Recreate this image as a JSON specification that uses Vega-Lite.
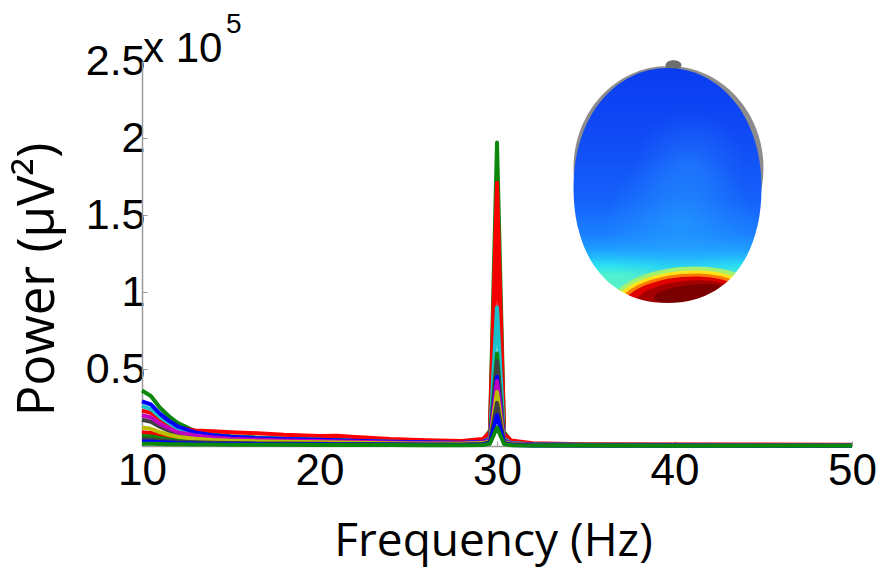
{
  "$schema": "https://vega.github.io/schema/vega-lite/v6.json",
  "width": 710,
  "height": 385,
  "autosize": "none",
  "padding": {"left": 142, "top": 61, "right": 29, "bottom": 122},
  "background": "white",
  "config": {"view": {"stroke": null}},
  "datasets": {
    "spectra": [
      {"f": 10, "d01": 36000, "d02": 23000, "d03": 9000, "d04": 26000, "d05": 6500, "d06": 17000, "d07": 29000, "d08": 20000, "d09": 12000, "d10": 4500, "d11": 3000, "d12": 1500},
      {"f": 10.5, "d01": 32500, "d02": 21500, "d03": 8500, "d04": 24000, "d05": 6200, "d06": 15800, "d07": 27000, "d08": 18500, "d09": 11200, "d10": 4300, "d11": 2900, "d12": 1450},
      {"f": 11, "d01": 25000, "d02": 17500, "d03": 7000, "d04": 19000, "d05": 5200, "d06": 12500, "d07": 21000, "d08": 14500, "d09": 9000, "d10": 3700, "d11": 2500, "d12": 1300},
      {"f": 11.5, "d01": 19500, "d02": 14000, "d03": 5800, "d04": 15000, "d05": 4300, "d06": 10000, "d07": 16500, "d08": 11500, "d09": 7300, "d10": 3200, "d11": 2200, "d12": 1200},
      {"f": 12, "d01": 15000, "d02": 11800, "d03": 4800, "d04": 11500, "d05": 3600, "d06": 8000, "d07": 12800, "d08": 9000, "d09": 6000, "d10": 2800, "d11": 1900, "d12": 1100},
      {"f": 13, "d01": 9500, "d02": 10000, "d03": 4000, "d04": 8500, "d05": 3000, "d06": 6000, "d07": 8800, "d08": 6800, "d09": 4700, "d10": 2400, "d11": 1700, "d12": 1000},
      {"f": 14, "d01": 7500, "d02": 9500, "d03": 3600, "d04": 7000, "d05": 2600, "d06": 5000, "d07": 7000, "d08": 5500, "d09": 3900, "d10": 2100, "d11": 1500, "d12": 900},
      {"f": 15, "d01": 6300, "d02": 9000, "d03": 3300, "d04": 6000, "d05": 2300, "d06": 4300, "d07": 6000, "d08": 4700, "d09": 3400, "d10": 1900, "d11": 1400, "d12": 850},
      {"f": 16.5, "d01": 5400, "d02": 8300, "d03": 3000, "d04": 5000, "d05": 2100, "d06": 3800, "d07": 5100, "d08": 4100, "d09": 3000, "d10": 1700, "d11": 1300, "d12": 800},
      {"f": 18, "d01": 4800, "d02": 7300, "d03": 2800, "d04": 4500, "d05": 1900, "d06": 3400, "d07": 4500, "d08": 3600, "d09": 2700, "d10": 1600, "d11": 1200, "d12": 750},
      {"f": 20, "d01": 4300, "d02": 6500, "d03": 2600, "d04": 4000, "d05": 1700, "d06": 3000, "d07": 4000, "d08": 3200, "d09": 2400, "d10": 1400, "d11": 1100, "d12": 700},
      {"f": 21, "d01": 4000, "d02": 6600, "d03": 2400, "d04": 3600, "d05": 1600, "d06": 2800, "d07": 3700, "d08": 3000, "d09": 2200, "d10": 1350, "d11": 1050, "d12": 680},
      {"f": 22, "d01": 3600, "d02": 5800, "d03": 2200, "d04": 3300, "d05": 1500, "d06": 2600, "d07": 3400, "d08": 2800, "d09": 2100, "d10": 1300, "d11": 1000, "d12": 650},
      {"f": 24, "d01": 3000, "d02": 4500, "d03": 1900, "d04": 2800, "d05": 1300, "d06": 2200, "d07": 2800, "d08": 2300, "d09": 1800, "d10": 1100, "d11": 900, "d12": 600},
      {"f": 26, "d01": 2600, "d02": 3800, "d03": 1600, "d04": 2300, "d05": 1100, "d06": 1900, "d07": 2400, "d08": 2000, "d09": 1500, "d10": 1000, "d11": 800, "d12": 550},
      {"f": 28, "d01": 2300, "d02": 3200, "d03": 1500, "d04": 2000, "d05": 1000, "d06": 1700, "d07": 2100, "d08": 1800, "d09": 1400, "d10": 900, "d11": 700, "d12": 500},
      {"f": 29.2, "d01": 3500, "d02": 4500, "d03": 2200, "d04": 2800, "d05": 1500, "d06": 2300, "d07": 2800, "d08": 2400, "d09": 1900, "d10": 1300, "d11": 1000, "d12": 700},
      {"f": 29.6, "d01": 10000, "d02": 9000, "d03": 7000, "d04": 5000, "d05": 3500, "d06": 4000, "d07": 4000, "d08": 3800, "d09": 3000, "d10": 2500, "d11": 2000, "d12": 1500},
      {"f": 30, "d01": 197000, "d02": 171000, "d03": 130000, "d04": 90000, "d05": 60000, "d06": 55000, "d07": 45000, "d08": 42000, "d09": 35000, "d10": 28000, "d11": 20000, "d12": 12000},
      {"f": 30.4, "d01": 9000, "d02": 8000, "d03": 6000, "d04": 4500, "d05": 3000, "d06": 3500, "d07": 3500, "d08": 3300, "d09": 2600, "d10": 2200, "d11": 1800, "d12": 1300},
      {"f": 30.8, "d01": 3000, "d02": 3500, "d03": 2000, "d04": 2000, "d05": 1200, "d06": 1500, "d07": 1600, "d08": 1400, "d09": 1200, "d10": 900, "d11": 700, "d12": 500},
      {"f": 32, "d01": 1500, "d02": 1800, "d03": 1000, "d04": 1100, "d05": 700, "d06": 900, "d07": 900, "d08": 800, "d09": 700, "d10": 500, "d11": 400, "d12": 300},
      {"f": 35, "d01": 1000, "d02": 1200, "d03": 700, "d04": 800, "d05": 500, "d06": 600, "d07": 700, "d08": 600, "d09": 500, "d10": 400, "d11": 300, "d12": 250},
      {"f": 40, "d01": 800, "d02": 1000, "d03": 600, "d04": 700, "d05": 400, "d06": 500, "d07": 600, "d08": 500, "d09": 400, "d10": 300, "d11": 300, "d12": 200},
      {"f": 45, "d01": 700, "d02": 900, "d03": 600, "d04": 600, "d05": 400, "d06": 500, "d07": 600, "d08": 500, "d09": 400, "d10": 300, "d11": 200, "d12": 200},
      {"f": 50, "d01": 700, "d02": 800, "d03": 500, "d04": 600, "d05": 400, "d06": 500, "d07": 500, "d08": 400, "d09": 400, "d10": 300, "d11": 200, "d12": 200}
    ]
  },
  "layer": [
    {
      "data": {"name": "spectra"},
      "transform": [{"fold": ["d01", "d02", "d03", "d04", "d05", "d06", "d07", "d08", "d09", "d10", "d11", "d12"], "as": ["ch", "p"]}],
      "mark": {"type": "line", "strokeWidth": 4, "strokeJoin": "round"},
      "encoding": {
        "x": {
          "field": "f", "type": "quantitative",
          "scale": {"domain": [10, 50], "nice": false, "zero": false},
          "axis": {
            "values": [10, 20, 30, 40, 50], "title": "Frequency (Hz)", "grid": false,
            "domainColor": "#9a9a9a", "domainWidth": 1.5, "tickColor": "#9a9a9a", "tickSize": -5, "tickWidth": 1,
            "labelFont": "Liberation Sans", "labelFontSize": 44, "labelColor": "#000000", "labelPadding": 8,
            "labelFlush": false, "labelOverlap": false,
            "titleFont": "Open Sans", "titleFontSize": 46, "titleFontWeight": "normal", "titleColor": "#000000",
            "titleX": 351, "titleY": 109, "titleBaseline": "alphabetic", "titleAlign": "center"
          }
        },
        "y": {
          "field": "p", "type": "quantitative",
          "scale": {"domain": [0, 250000], "nice": false},
          "axis": {
            "values": [50000, 100000, 150000, 200000, 250000], "labelExpr": "datum.value / 100000 + ''",
            "title": "Power (μV²)", "grid": false,
            "domainColor": "#9a9a9a", "domainWidth": 1.5, "tickColor": "#9a9a9a", "tickSize": -5, "tickWidth": 1,
            "labelFont": "Liberation Sans", "labelFontSize": 43, "labelColor": "#000000", "labelPadding": 2,
            "labelFlush": false, "labelOverlap": false,
            "titleFont": "Open Sans", "titleFontSize": 51, "titleFontWeight": "normal", "titleColor": "#000000",
            "titleAngle": -90, "titleX": -89, "titleY": 218, "titleBaseline": "alphabetic", "titleAlign": "center"
          }
        },
        "color": {
          "field": "ch", "type": "nominal", "legend": null,
          "scale": {
            "domain": ["d01", "d02", "d03", "d04", "d05", "d06", "d07", "d08", "d09", "d10", "d11", "d12"],
            "range": ["#0b870b", "#ff0000", "#f20000", "#19c2c9", "#0b870b", "#404040", "#0000ff", "#c000c0", "#bdbd00", "#404040", "#0000ff", "#0b870b"]
          }
        }
      }
    },
    {
      "data": {"values": [{"f": 39.662, "p": 180519}]},
      "mark": {"type": "point", "filled": true, "opacity": 1, "size": 41616, "color": "#8c8c8c",
        "shape": "M-0.931,0A0.931,1,0,1,0,0.931,0A0.931,1,0,1,0,-0.931,0Z"},
      "encoding": {"x": {"field": "f", "type": "quantitative"}, "y": {"field": "p", "type": "quantitative"}}
    },
    {
      "data": {"values": [{"f": 39.944, "p": 247403}]},
      "mark": {"type": "point", "filled": true, "opacity": 1, "size": 256, "color": "#6e6e6e",
        "shape": "M-1,0A1,0.6,0,1,0,1,0A1,0.6,0,1,0,-1,0Z"},
      "encoding": {"x": {"field": "f", "type": "quantitative"}, "y": {"field": "p", "type": "quantitative"}}
    },
    {
      "data": {"values": [{"f": 39.606, "p": 169156}]},
      "mark": {"type": "point", "filled": true, "opacity": 1, "size": 55225,
        "shape": "M0,-1C0.42,-1,0.8,-0.62,0.8,0.02C0.8,0.62,0.5,1,0,1C-0.5,1,-0.8,0.62,-0.8,0.02C-0.8,-0.62,-0.42,-1,0,-1Z",
        "color": {"gradient": "linear", "x1": 0, "y1": 0, "x2": 0, "y2": 1, "stops": [
          {"offset": 0, "color": "#0a3cf0"},
          {"offset": 0.25, "color": "#1048f5"},
          {"offset": 0.56, "color": "#1560fb"},
          {"offset": 0.71, "color": "#1a80ff"},
          {"offset": 0.775, "color": "#1ea0ff"},
          {"offset": 0.81, "color": "#22c0fa"},
          {"offset": 0.84, "color": "#2ae0f0"},
          {"offset": 0.88, "color": "#50f0d0"},
          {"offset": 1, "color": "#60f0c0"}
        ]}},
      "encoding": {"x": {"field": "f", "type": "quantitative"}, "y": {"field": "p", "type": "quantitative"}}
    },
    {
      "data": {"values": [{"f": 40.873, "p": 182468}]},
      "mark": {"type": "point", "filled": true, "opacity": 1, "size": 12100,
        "shape": "M-1,0A1,1,0,1,0,1,0A1,1,0,1,0,-1,0Z",
        "color": {"gradient": "radial", "x1": 0.5, "y1": 0.5, "r1": 0, "x2": 0.5, "y2": 0.5, "r2": 0.5, "stops": [
          {"offset": 0, "color": "rgba(40,140,255,0.45)"},
          {"offset": 1, "color": "rgba(40,140,255,0)"}
        ]}},
      "encoding": {"x": {"field": "f", "type": "quantitative"}, "y": {"field": "p", "type": "quantitative"}}
    },
    {
      "data": {"values": [{"f": 40.31, "p": 143506}]},
      "mark": {"type": "point", "filled": true, "opacity": 1, "size": 22500,
        "shape": "M-1,0A1,1,0,1,0,1,0A1,1,0,1,0,-1,0Z",
        "color": {"gradient": "radial", "x1": 0.5, "y1": 0.5, "r1": 0, "x2": 0.5, "y2": 0.5, "r2": 0.5, "stops": [
          {"offset": 0, "color": "rgba(40,165,255,0.6)"},
          {"offset": 1, "color": "rgba(40,165,255,0)"}
        ]}},
      "encoding": {"x": {"field": "f", "type": "quantitative"}, "y": {"field": "p", "type": "quantitative"}}
    },
    {
      "data": {"values": [{"f": 40.535, "p": 94805}]},
      "mark": {"type": "point", "filled": true, "opacity": 1, "size": 21904, "angle": -5, "color": "#a4f070",
        "shape": "M-1,0A1,0.446,0,1,0,1,0A1,0.446,0,1,0,-1,0Z"},
      "encoding": {"x": {"field": "f", "type": "quantitative"}, "y": {"field": "p", "type": "quantitative"}}
    },
    {
      "data": {"values": [{"f": 40.535, "p": 94156}]},
      "mark": {"type": "point", "filled": true, "opacity": 1, "size": 19600, "angle": -5, "color": "#ffe41c",
        "shape": "M-1,0A1,0.429,0,1,0,1,0A1,0.429,0,1,0,-1,0Z"},
      "encoding": {"x": {"field": "f", "type": "quantitative"}, "y": {"field": "p", "type": "quantitative"}}
    },
    {
      "data": {"values": [{"f": 40.535, "p": 93506}]},
      "mark": {"type": "point", "filled": true, "opacity": 1, "size": 17424, "angle": -5, "color": "#ff7a00",
        "shape": "M-1,0A1,0.424,0,1,0,1,0A1,0.424,0,1,0,-1,0Z"},
      "encoding": {"x": {"field": "f", "type": "quantitative"}, "y": {"field": "p", "type": "quantitative"}}
    },
    {
      "data": {"values": [{"f": 40.535, "p": 92857}]},
      "mark": {"type": "point", "filled": true, "opacity": 1, "size": 15376, "angle": -5, "color": "#e00000",
        "shape": "M-1,0A1,0.419,0,1,0,1,0A1,0.419,0,1,0,-1,0Z"},
      "encoding": {"x": {"field": "f", "type": "quantitative"}, "y": {"field": "p", "type": "quantitative"}}
    },
    {
      "data": {"values": [{"f": 40.648, "p": 94805}]},
      "mark": {"type": "point", "filled": true, "opacity": 1, "size": 10816, "angle": -6, "color": "#a40000",
        "shape": "M-1,0A1,0.365,0,1,0,1,0A1,0.365,0,1,0,-1,0Z"},
      "encoding": {"x": {"field": "f", "type": "quantitative"}, "y": {"field": "p", "type": "quantitative"}}
    },
    {
      "data": {"values": [{"f": 40.873, "p": 98701}]},
      "mark": {"type": "point", "filled": true, "opacity": 1, "size": 5184, "angle": -7, "color": "#7a0000",
        "shape": "M-1,0A1,0.25,0,1,0,1,0A1,0.25,0,1,0,-1,0Z"},
      "encoding": {"x": {"field": "f", "type": "quantitative"}, "y": {"field": "p", "type": "quantitative"}}
    },
    {
      "data": {"values": [{"f": 39.606, "p": 169156}]},
      "mark": {"type": "point", "filled": true, "opacity": 1, "size": 55225, "color": "#ffffff",
        "shape": "M0.7648,0.3523L0.95,0.3523L0.95,1.45L-0.95,1.45L-0.95,0.3523L-0.7648,0.3523C-0.672,0.7568,-0.4,1,0,1C0.4,1,0.672,0.7568,0.7648,0.3523Z"},
      "encoding": {"x": {"field": "f", "type": "quantitative"}, "y": {"field": "p", "type": "quantitative"}}
    },
    {
      "data": {"values": [{"f": 10, "p": 250000, "t": "x 10"}]},
      "mark": {"type": "text", "font": "Liberation Sans", "fontSize": 42, "align": "left", "baseline": "alphabetic", "dx": 1, "dy": 1, "color": "#000000"},
      "encoding": {"x": {"field": "f", "type": "quantitative"}, "y": {"field": "p", "type": "quantitative"}, "text": {"field": "t"}}
    },
    {
      "data": {"values": [{"f": 14.73, "p": 268182, "t": "5"}]},
      "mark": {"type": "text", "font": "Liberation Sans", "fontSize": 28, "align": "left", "baseline": "alphabetic", "color": "#000000"},
      "encoding": {"x": {"field": "f", "type": "quantitative"}, "y": {"field": "p", "type": "quantitative"}, "text": {"field": "t"}}
    }
  ]
}
